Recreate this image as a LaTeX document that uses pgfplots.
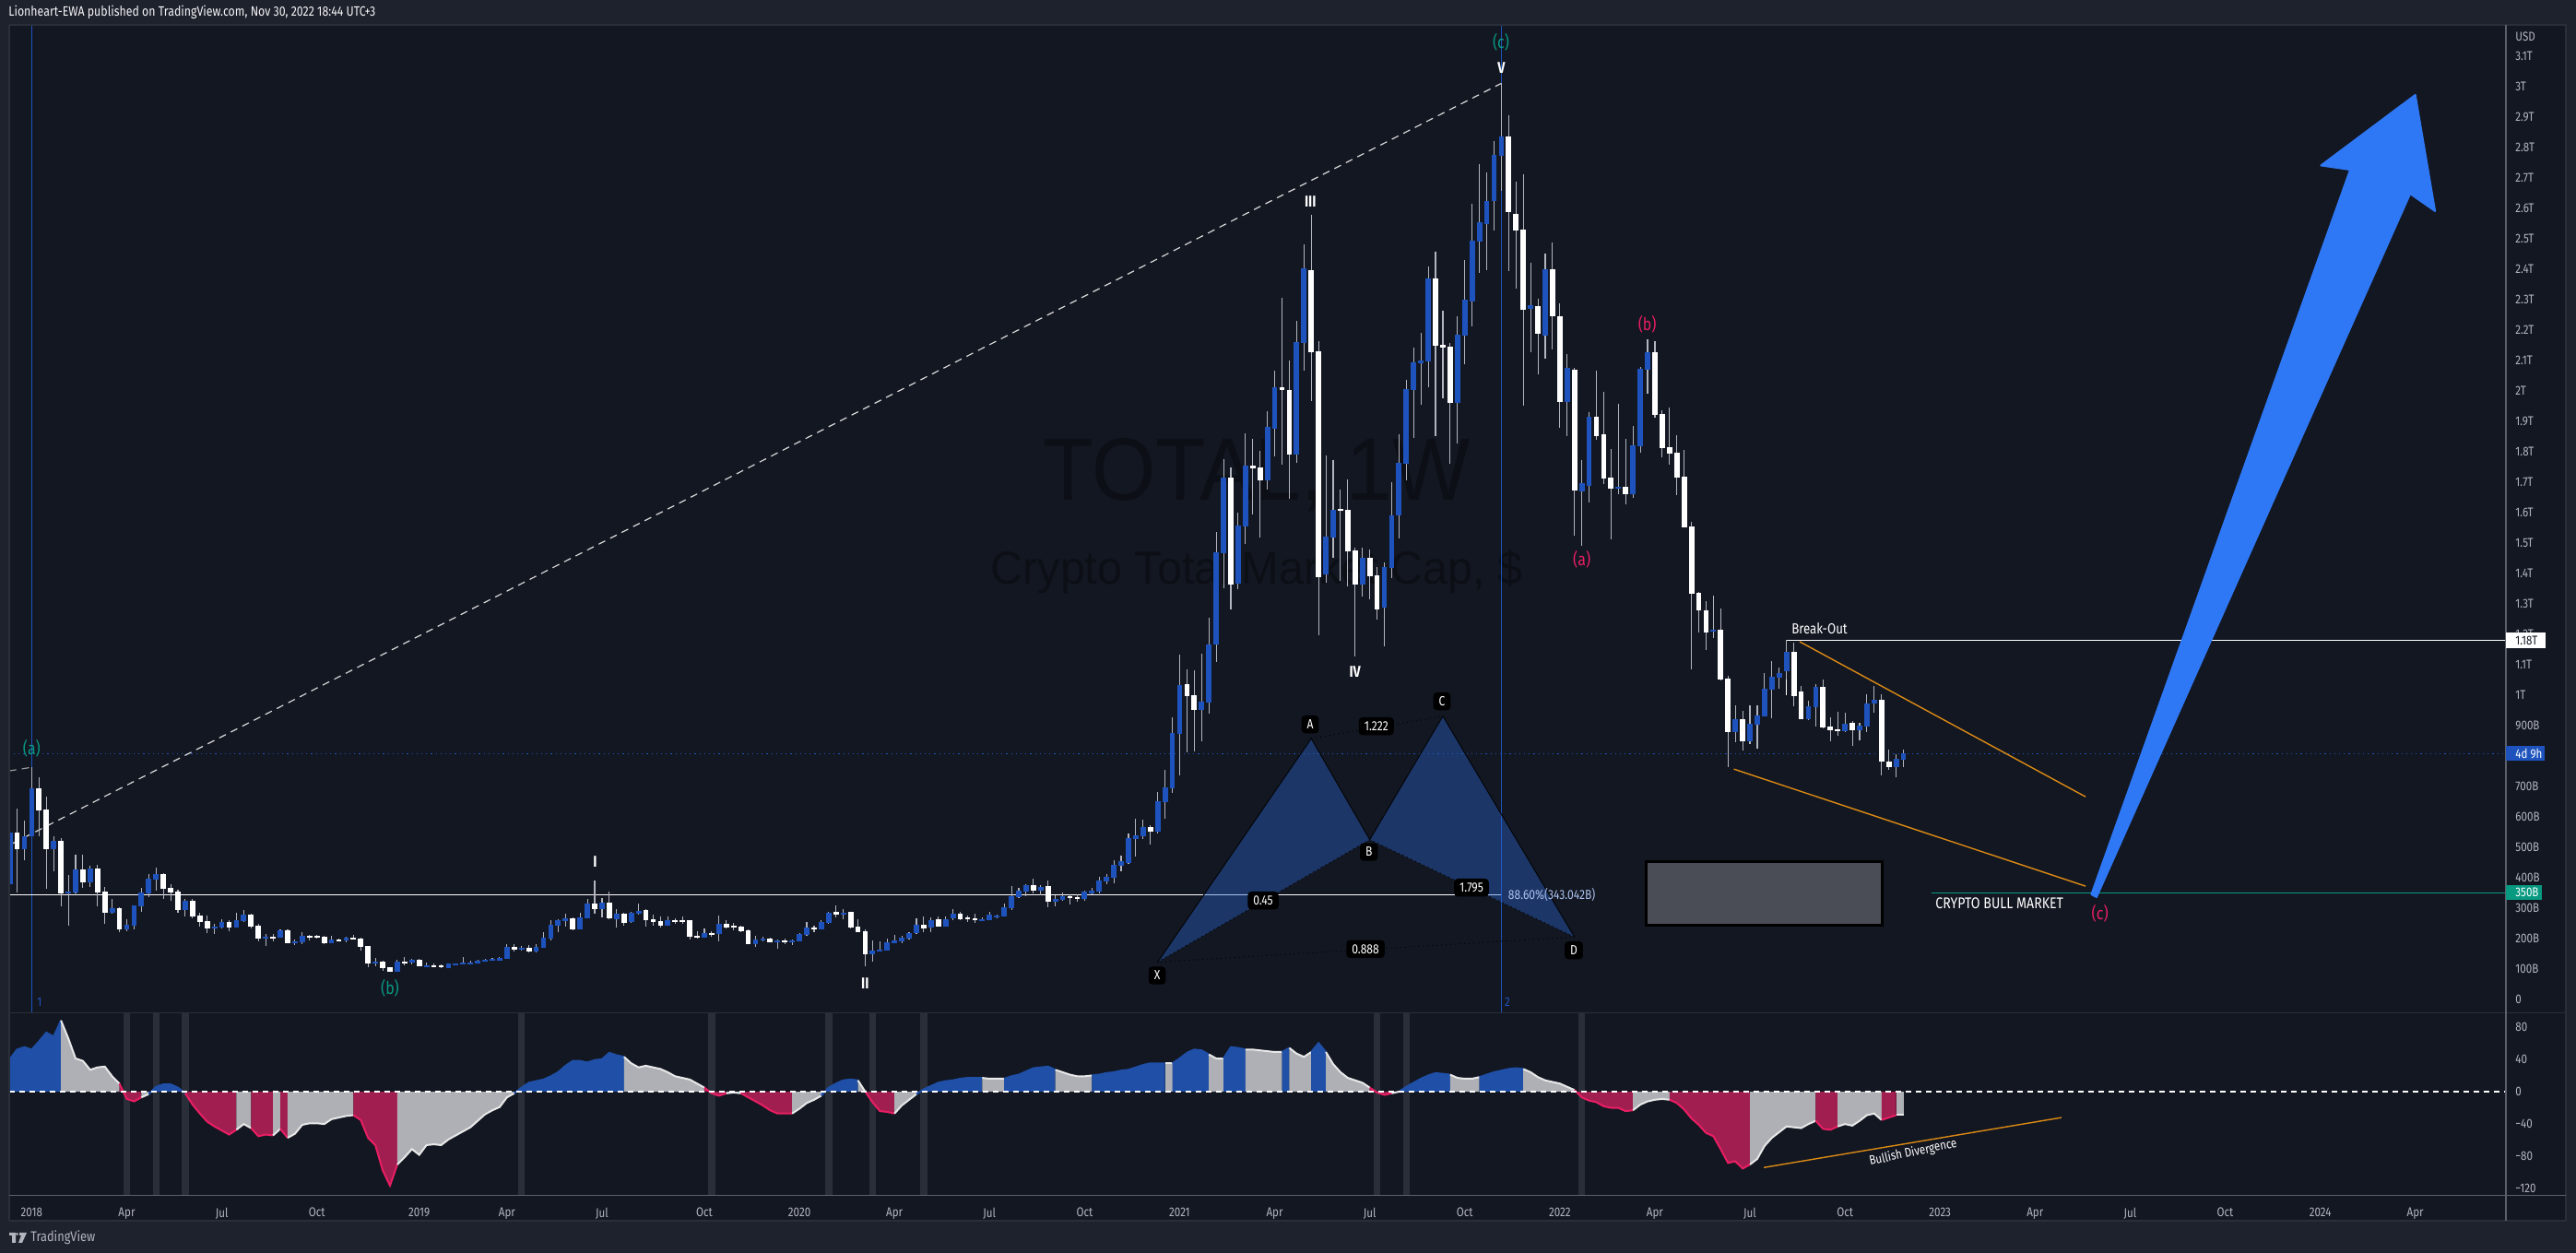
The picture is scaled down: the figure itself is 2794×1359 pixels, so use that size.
\documentclass[border=0pt]{standalone}
\usepackage{fontspec}
\usepackage{pgfplots}
\usepackage{pgfplotstable}
\pgfplotsset{compat=1.18}
\setmainfont[FakeStretch=0.84]{Fira Sans}
\newfontfamily\wm[FakeStretch=0.93]{Liberation Sans}
\newfontfamily\wmb[FakeStretch=0.97]{Liberation Sans}
\definecolor{outer}{HTML}{1E222D}
\definecolor{pane}{HTML}{131722}
\definecolor{sep}{HTML}{2A2E39}
\definecolor{scal}{HTML}{5D606B}
\definecolor{txt}{HTML}{B2B5BE}
\definecolor{upc}{HTML}{1E53BE}
\definecolor{wick}{HTML}{B2B5BE}
\definecolor{teal1}{HTML}{089981}
\definecolor{pink1}{HTML}{E91E63}
\definecolor{orng}{HTML}{DB8A14}
\definecolor{arrowb}{HTML}{2F78F5}
\definecolor{wmk}{HTML}{0C0F15}
\definecolor{oblue}{HTML}{1F4FA6}
\definecolor{ogrey}{HTML}{AEB0B5}
\definecolor{ored}{HTML}{A11E50}
\definecolor{oline}{HTML}{E8E8E8}
\definecolor{band}{HTML}{2A2E39}
\definecolor{harm}{HTML}{2A65D0}
\definecolor{rectg}{HTML}{4A4D55}
\definecolor{fibt}{HTML}{A9C0EC}

\pgfplotstableread{
i o h l c
-3 377 579 372 546
-1 492 586 457 534
0 534 762 534 692
3 492 534 420 519
5 347 409 241 353
6 350 473 347 426
8 383 437 368 429
11 283 329 281 298
13 228 262 222 244
14 241 309 228 307
15 304 365 286 350
16 347 410 336 395
17 392 432 356 410
21 292 329 271 322
25 232 247 213 238
26 235 262 232 253
28 235 283 235 259
29 255 292 253 277
32 198 213 174 204
34 201 228 201 225
36 183 195 177 189
37 186 219 180 207
41 183 207 183 195
43 192 204 186 201
47 116 134 107 122
50 89 128 89 122
52 119 131 113 128
54 107 119 107 110
57 101 116 101 116
58 113 116 110 116
59 113 137 113 119
60 116 125 116 119
61 116 128 116 125
62 122 131 122 128
63 125 134 125 131
64 127 137 125 134
65 131 180 131 171
67 162 174 159 168
69 156 180 153 171
70 168 219 168 201
71 198 259 192 244
72 241 262 219 259
73 256 280 238 265
75 228 283 228 268
76 265 329 265 313
78 295 332 268 316
80 262 295 235 280
82 253 286 250 283
83 280 313 277 289
87 241 271 241 259
92 201 231 201 216
94 213 274 189 247
99 180 207 171 195
100 192 204 189 198
102 186 195 165 192
104 189 195 177 192
105 189 216 189 213
106 210 253 207 235
108 228 259 228 253
109 250 286 247 283
111 277 295 262 283
115 147 192 122 159
116 156 189 156 162
117 159 198 159 186
118 183 210 183 192
119 189 207 183 201
120 198 219 195 216
121 216 265 213 244
123 235 268 219 259
125 238 271 238 262
126 265 295 259 280
130 259 268 256 262
131 259 286 259 277
132 271 277 265 274
133 271 313 271 301
134 298 371 292 338
135 335 365 332 356
136 353 377 338 374
138 356 374 341 368
140 319 341 304 329
141 326 350 322 338
144 329 356 322 353
145 347 365 344 356
146 353 401 347 389
147 386 410 377 401
148 398 456 380 441
149 438 471 420 453
150 447 544 444 529
151 526 592 468 538
152 535 589 526 565
154 550 680 544 650
155 647 753 592 696
156 692 926 677 875
157 873 1132 735 1032
160 950 1136 847 978
161 975 1255 938 1167
162 1167 1537 1109 1469
163 1465 1776 1351 1716
165 1366 1600 1347 1556
166 1553 1860 1496 1753
169 1705 1932 1674 1881
170 1874 2066 1785 2012
173 1789 2230 1763 2160
174 2158 2482 2066 2403
177 1397 1787 1370 1519
178 1517 1772 1452 1609
182 1364 1485 1322 1450
185 1286 1435 1159 1420
186 1418 1699 1384 1590
187 1590 1856 1514 1763
188 1760 2036 1705 2005
189 2003 2142 1844 2093
190 2092 2191 1954 2100
191 2096 2409 2012 2369
195 1961 2245 1828 2183
196 2180 2430 2088 2299
197 2295 2614 2212 2494
198 2491 2746 2388 2555
199 2548 2719 2396 2624
200 2624 2821 2526 2775
201 2773 3011 2656 2836
205 2270 2421 2128 2281
207 2181 2451 2105 2399
210 1963 2122 1850 2076
212 1670 1771 1491 1696
213 1687 1929 1633 1915
217 1678 1957 1661 1685
219 1660 1885 1648 1820
220 1818 2078 1795 2073
221 2069 2170 1990 2127
230 1208 1326 1188 1215
233 877 965 844 920
235 847 965 838 905
236 902 965 823 932
237 929 1071 929 1020
238 1017 1111 923 1059
239 1056 1090 1020 1071
240 1077 1180 1050 1141
243 920 980 917 962
244 959 1035 895 1026
248 880 941 877 905
250 883 908 850 898
251 895 1002 877 971
252 971 1029 941 983
255 762 804 729 789
256 788 820 762 807
}\bluet

\pgfplotstableread{
i o h l c
-2 546 626 351 492
1 692 729 536 620
2 623 664 363 492
4 519 528 305 347
7 426 473 366 383
9 429 441 305 350
10 353 368 248 283
12 298 301 219 228
18 410 414 329 362
19 365 376 322 350
20 353 359 283 292
22 322 329 265 271
23 274 283 238 253
24 256 274 216 232
27 253 259 222 235
30 277 280 232 238
31 241 247 189 198
33 204 213 189 200
35 225 228 182 183
38 207 210 192 204
39 207 210 198 201
40 204 207 180 183
42 195 198 191 192
44 201 210 195 195
45 198 201 159 171
46 174 174 104 116
48 122 125 92 101
49 104 104 89 89
51 122 137 110 119
53 128 131 107 107
55 110 116 107 107
56 110 113 101 104
66 171 180 156 162
68 168 177 153 156
74 265 268 225 228
77 313 389 280 295
79 316 353 262 265
81 280 283 241 250
84 292 295 238 259
85 262 277 241 253
86 256 271 235 241
88 259 265 248 256
89 259 271 248 256
90 259 259 195 204
91 207 222 198 201
93 216 222 204 213
95 247 259 231 235
96 241 250 225 235
97 238 241 219 222
98 225 228 180 180
101 198 201 186 186
103 192 198 180 189
107 235 241 219 228
110 286 307 268 277
112 286 286 231 235
113 238 262 219 219
114 222 228 107 147
122 244 271 219 231
124 262 271 238 238
127 280 286 259 262
128 268 274 253 262
129 265 280 250 259
137 374 395 347 356
139 371 389 301 319
142 338 344 310 332
143 335 344 319 329
153 565 571 508 550
158 1035 1083 810 996
159 999 1081 814 950
164 1716 1749 1280 1364
167 1753 1841 1594 1745
168 1748 1801 1517 1705
171 2012 2306 1756 2004
172 2004 2100 1645 1789
175 2396 2578 1966 2128
176 2130 2164 1197 1387
179 1611 1675 1374 1605
180 1609 1709 1357 1472
181 1475 1485 1127 1364
183 1450 1479 1314 1389
184 1393 1420 1249 1282
192 2369 2457 1850 2147
193 2151 2264 1975 2141
194 2145 2158 1760 1961
202 2836 2905 2395 2587
203 2582 2687 2337 2526
204 2530 2712 1950 2266
206 2279 2304 2055 2188
208 2399 2487 2137 2245
209 2245 2287 1877 1963
211 2068 2076 1525 1673
214 1915 2067 1839 1851
215 1857 1995 1692 1711
216 1715 1809 1512 1678
218 1685 1842 1628 1660
222 2127 2164 1912 1921
223 1924 1935 1781 1812
224 1814 1945 1758 1794
225 1797 1854 1658 1715
226 1717 1805 1551 1551
227 1554 1569 1083 1333
228 1335 1340 1206 1279
229 1279 1309 1149 1206
231 1215 1284 1049 1050
232 1053 1064 763 877
234 920 947 817 847
241 1141 1171 962 996
242 1011 1029 920 920
245 1026 1050 889 892
246 895 926 847 883
247 886 944 865 881
249 908 914 832 883
253 983 1002 735 780
254 780 820 753 762
}\whitet

\pgfplotstableread{
i v
-3 40
-2 52
-1 55
0 52
1 62
2 73
3 68
4 88
5 66
6 41
7 38
8 27
9 30
10 31
11 19
12 10
13 -9
14 -12
15 -7
16 -3
17 6
18 9
19 9
20 5
21 -2
22 -16
23 -27
24 -37
25 -43
26 -48
27 -53
28 -47
29 -40
30 -45
31 -55
32 -53
33 -54
34 -46
35 -57
36 -52
37 -41
38 -39
39 -39
40 -40
41 -34
42 -32
43 -30
44 -29
45 -35
46 -57
47 -66
48 -97
49 -116
50 -90
51 -81
52 -71
53 -78
54 -66
55 -65
56 -66
57 -59
58 -54
59 -49
60 -44
61 -36
62 -28
63 -23
64 -19
65 -7
66 -2
67 5
68 11
69 13
70 15
71 19
72 24
73 32
74 38
75 38
76 36
77 39
78 40
79 48
80 45
81 43
82 35
83 30
84 32
85 30
86 28
87 24
88 19
89 17
90 15
91 10
92 5
93 -2
94 -5
95 -2
96 -1
97 -2
98 -7
99 -12
100 -17
101 -23
102 -27
103 -27
104 -27
105 -21
106 -14
107 -10
108 -5
109 5
110 10
111 14
112 15
113 14
114 0
115 -13
116 -24
117 -25
118 -27
119 -17
120 -10
121 -3
122 3
123 7
124 11
125 13
126 14
127 16
128 17
129 17
130 17
131 16
132 16
133 16
134 19
135 21
136 25
137 29
138 30
139 31
140 27
141 24
142 21
143 19
144 19
145 20
146 21
147 23
148 24
149 26
150 27
151 30
152 33
153 35
154 35
155 35
156 35
157 41
158 48
159 52
160 51
161 46
162 41
163 41
164 55
165 54
166 52
167 52
168 51
169 50
170 49
171 49
172 54
173 47
174 43
175 49
176 60
177 49
178 34
179 24
180 17
181 14
182 11
183 5
184 -1
185 -4
186 -2
187 0
188 6
189 11
190 16
191 20
192 23
193 22
194 21
195 17
196 16
197 16
198 18
199 21
200 24
201 26
202 28
203 29
204 28
205 24
206 18
207 14
208 12
209 10
210 6
211 2
212 -7
213 -11
214 -13
215 -18
216 -20
217 -20
218 -24
219 -23
220 -16
221 -12
222 -10
223 -9
224 -10
225 -14
226 -22
227 -33
228 -41
229 -51
230 -55
231 -71
232 -88
233 -86
234 -95
235 -90
236 -83
237 -67
238 -57
239 -50
240 -43
241 -44
242 -45
243 -40
244 -36
245 -46
246 -47
247 -43
248 -40
249 -42
250 -36
251 -29
252 -27
253 -35
254 -32
255 -29
256 -29
}\osct

\newcommand\wicks[1]{\addplot[draw=none,no marks,forget plot,error bars/.cd,y dir=both,y explicit,error mark=none,error bar style={line width=.55pt,color=wick}] table[x=i,y expr=(\thisrow{h}+\thisrow{l})/2,y error expr=(\thisrow{h}-\thisrow{l})/2]{#1};}
\newcommand\bodies[2]{\addplot[draw=none,no marks,forget plot,error bars/.cd,y dir=both,y explicit,error mark=none,error bar style={line width=2.9pt,color=#2}] table[x=i,y expr=(\thisrow{o}+\thisrow{c})/2,y error expr={max(abs(\thisrow{o}-\thisrow{c})/2,3)}]{#1};}
\newcommand\seg[4]{%
\addplot[draw=none,fill=#3,forget plot,restrict x to domain=#1:#2] table[x=i,y=v]{\osct}\closedcycle;
\addplot[color=#4,line width=1pt,forget plot,restrict x to domain=#1:#2] table[x=i,y=v]{\osct};}
\newcommand\tlf{\fontsize{6.9}{8}\selectfont}

\pgfplotsset{base/.style={scale only axis,width=1354pt,xmin=-3.077,xmax=338.4,
 axis line style={draw=none},major tick length=0pt,
 tick style={draw=none},
 tick label style={font=\tlf,text=txt,inner sep=0pt}}}

\begin{document}
\begin{tikzpicture}
\begin{scope}[x=0.5pt,y=-0.5pt,yshift=679.5pt]
\fill[outer] (0,0) rectangle (2794,1359);
\fill[pane] (10,27) rectangle (2783,1323.6);
\node[text=wmk,font={\wm\fontsize{48}{50}\selectfont}] at (1363,515) {TOTAL, 1W};
\node[text=wmk,font={\wmb\fontsize{25}{27}\selectfont}] at (1363,620) {Crypto Total Market Cap, \$};
\end{scope}

% ---------- main pane
\begin{axis}[base,at={(5pt,130.25pt)},anchor=south west,height=535.75pt,
 ymin=-45.5,ymax=3203.3,xtick=\empty,
 axis y line*=right,
 ytick={0,100,200,300,400,500,600,700,800,900,1000,1100,1200,1300,1400,1500,1600,1700,1800,1900,2000,2100,2200,2300,2400,2500,2600,2700,2800,2900,3000,3100},
 yticklabels={0,100B,200B,300B,400B,500B,600B,700B,800B,900B,1T,1.1T,1.2T,1.3T,1.4T,1.5T,1.6T,1.7T,1.8T,1.9T,2T,2.1T,2.2T,2.3T,2.4T,2.5T,2.6T,2.7T,2.8T,2.9T,3T,3.1T},
 yticklabel style={anchor=west,xshift=5pt}]
% vertical session lines and price lines
\addplot[color=upc,line width=.6pt,forget plot] coordinates {(0,-45.5)(0,3203.3)};
\addplot[color=upc,line width=.6pt,forget plot] coordinates {(201,-45.5)(201,3203.3)};
\addplot[color=upc,line width=.6pt,dotted,forget plot] coordinates {(-3.1,807)(338.4,807)};
\addplot[color=white,line width=.8pt,forget plot] coordinates {(-3.1,343)(201,343)};
\addplot[color=white,line width=.6pt,forget plot] coordinates {(240,1000)(240,1180)(338.4,1180)};
\addplot[color=teal1,line width=.45pt,forget plot] coordinates {(259.8,350)(338.4,350)};
% dashed trend
\addplot[color=white!85!black,line width=.6pt,dash pattern=on 4pt off 3pt,forget plot] coordinates {(-2.65,511)(201,3011)};
\addplot[color=white!60!black,line width=.6pt,dash pattern=on 4pt off 3pt,forget plot] coordinates {(-3.1,750)(0,762)};
% harmonic pattern
\addplot[draw=none,fill=harm,fill opacity=.4,forget plot] coordinates {(154,121.5)(175,856.5)(183,524)} -- cycle;
\addplot[draw=none,fill=harm,fill opacity=.4,forget plot] coordinates {(183,524)(193,930)(211,204)} -- cycle;
\addplot[color=black!80!pane,line width=.5pt,forget plot] coordinates {(154,121.5)(175,856.5)(183,524)(193,930)(211,204)};
\addplot[color=black,line width=.5pt,dotted,forget plot] coordinates {(154,121.5)(183,524)(211,204)(154,121.5)};
\addplot[color=black,line width=.5pt,dotted,forget plot] coordinates {(175,856.5)(193,930)};
% candles
\wicks{\bluet}
\wicks{\whitet}
\bodies{\bluet}{upc}
\bodies{\whitet}{white}
% drawings
\addplot[color=orng,line width=.7pt,forget plot] coordinates {(241.8,1175)(280.9,665)};
\addplot[color=orng,line width=.7pt,forget plot] coordinates {(232.8,756)(280.9,371)};
\addplot[fill=rectg,draw=black,line width=1.5pt,forget plot] coordinates {(220.8,453)(253.1,453)(253.1,244)(220.8,244)} -- cycle;
\addplot[fill=arrowb,draw=arrowb,line width=1pt,line join=round,forget plot] coordinates {(281.7,344)(317.1,2727)(313.1,2741)(326,2973)(328.7,2591)(325.3,2648)(282.4,335)} -- cycle;
\end{axis}

% ---------- oscillator
\begin{axis}[base,at={(5pt,31.25pt)},anchor=south west,height=99pt,
 ymin=-128.1,ymax=97.4,
 axis y line*=right,axis x line*=bottom,
 ytick={-120,-80,-40,0,40,80},
 yticklabels={−120,−80,−40,0,40,80},
 yticklabel style={anchor=west,xshift=5pt},
 xtick={0,13,26,39,53,65,78,92,105,118,131,144,157,170,183,196,209,222,235,248,261,274,287,300,313,326},
 xticklabels={2018,Apr,Jul,Oct,2019,Apr,Jul,Oct,2020,Apr,Jul,Oct,2021,Apr,Jul,Oct,2022,Apr,Jul,Oct,2023,Apr,Jul,Oct,2024,Apr},
 xticklabel style={yshift=-6.5pt,anchor=north}]
\addplot[draw=none,no marks,forget plot,error bars/.cd,y dir=both,y fixed=130,error mark=none,error bar style={line width=3.7pt,color=band}] coordinates {(13,-15)(17,-15)(21,-15)(67,-15)(93,-15)(109,-15)(115,-15)(122,-15)(184,-15)(188,-15)(212,-15)};
\seg{-3}{4}{oblue}{oblue}
\seg{4}{12}{ogrey}{oline}
\seg{12}{15}{ored}{pink1}
\seg{15}{16}{ogrey}{oline}
\seg{16}{21}{oblue}{oblue}
\seg{21}{28}{ored}{pink1}
\seg{28}{30}{ogrey}{oline}
\seg{30}{33}{ored}{pink1}
\seg{33}{34}{ogrey}{oline}
\seg{34}{35}{ored}{pink1}
\seg{35}{44}{ogrey}{oline}
\seg{44}{50}{ored}{pink1}
\seg{50}{66}{ogrey}{oline}
\seg{66}{81}{oblue}{oblue}
\seg{81}{92}{ogrey}{oline}
\seg{92}{95}{ored}{pink1}
\seg{95}{97}{ogrey}{oline}
\seg{97}{104}{ored}{pink1}
\seg{104}{108}{ogrey}{oline}
\seg{108}{113}{oblue}{oblue}
\seg{113}{114}{ogrey}{oline}
\seg{114}{118}{ored}{pink1}
\seg{118}{121}{ogrey}{oline}
\seg{121}{130}{oblue}{oblue}
\seg{130}{133}{ogrey}{oline}
\seg{133}{140}{oblue}{oblue}
\seg{140}{145}{ogrey}{oline}
\seg{145}{155}{oblue}{oblue}
\seg{155}{156}{ogrey}{oline}
\seg{156}{161}{oblue}{oblue}
\seg{161}{163}{ogrey}{oline}
\seg{163}{166}{oblue}{oblue}
\seg{166}{171}{ogrey}{oline}
\seg{171}{172}{oblue}{oblue}
\seg{172}{175}{ogrey}{oline}
\seg{175}{177}{oblue}{oblue}
\seg{177}{183}{ogrey}{oline}
\seg{183}{186}{ored}{pink1}
\seg{186}{187}{ogrey}{oline}
\seg{187}{194}{oblue}{oblue}
\seg{194}{198}{ogrey}{oline}
\seg{198}{204}{oblue}{oblue}
\seg{204}{211}{ogrey}{oline}
\seg{211}{219}{ored}{pink1}
\seg{219}{224}{ogrey}{oline}
\seg{224}{235}{ored}{pink1}
\seg{235}{244}{ogrey}{oline}
\seg{244}{247}{ored}{pink1}
\seg{247}{253}{ogrey}{oline}
\seg{253}{255}{ored}{pink1}
\seg{255}{256}{ogrey}{oline}
\addplot[color=white,line width=.9pt,dash pattern=on 3pt off 2.5pt,forget plot] coordinates {(-3.1,0)(338.4,0)};
\addplot[color=orng,line width=.7pt,forget plot] coordinates {(236.9,-93.7)(277.6,-32)};
\end{axis}

% ---------- frame, labels (pixel coordinates of the reference)
\begin{scope}[x=0.5pt,y=-0.5pt,yshift=679.5pt]
\draw[sep,line width=.6pt] (10,27) -- (2783,27) -- (2783,1323.6);
\draw[sep,line width=1pt] (10,1323.6) -- (2783,1323.6);
\draw[sep,line width=.6pt] (10,27) -- (10,1323.6);
\draw[sep,line width=.7pt] (10,1098.5) -- (2783,1098.5);
\draw[scal,line width=.6pt] (10,1296.5) -- (2783,1296.5);
\draw[scal,line width=.6pt] (2718,27) -- (2718,1323.6);

\tikzset{lb/.style={font=\tlf,inner sep=0pt}}
\node[lb,text=white!85!txt,anchor=west,font=\fontsize{7.35}{9}\selectfont] at (9,13) {Lionheart-EWA published on TradingView.com, Nov 30, 2022 18:44 UTC+3};
\node[lb,text=txt,anchor=west] at (2728,40) {USD};
\node[lb,text=txt,anchor=west,font=\fontsize{7.6}{9}\selectfont] at (33,1342) {TradingView};
\fill[txt] (10,1337) rectangle (17,1340) (13,1337) rectangle (17,1348);
\fill[txt] (18.5,1338.5) circle (1.5);
\fill[txt] (21,1337) -- (29,1337) -- (24,1348) -- (20,1348) -- (23,1340) -- (21,1340) -- cycle;

% right scale boxes
\fill[white] (2718,686) rectangle (2760.7,703);
\node[lb,text=pane,anchor=west] at (2728,694.5) {1.18T};
\fill[upc] (2718,809) rectangle (2760,825.4);
\node[lb,text=white,anchor=west] at (2728,817.2) {4d 9h};
\fill[teal1] (2718,960) rectangle (2757,976.4);
\node[lb,text=white,anchor=west] at (2728,968.2) {350B};

% wave labels
\tikzset{wv/.style={font=\fontsize{9.5}{11}\selectfont,inner sep=0pt},
 rn/.style={font=\fontsize{8.5}{10}\selectfont\bfseries,text=white,inner sep=0pt}}
\node[wv,text=teal1] at (34.4,812) {(a)};
\node[wv,text=teal1] at (423,1072) {(b)};
\node[wv,text=teal1] at (1628,46) {(c)};
\node[wv,text=pink1] at (1715.7,607) {(a)};
\node[wv,text=pink1] at (1786.7,352) {(b)};
\node[wv,text=pink1] at (2277.7,991) {(c)};
\node[rn] at (645.5,935) {I};
\node[rn] at (938.4,1066.7) {II};
\node[rn] at (1421.3,218.5) {III};
\node[rn] at (1469.7,728.3) {IV};
\node[rn] at (1628.3,73.4) {V};
\node[lb,text=white,font=\fontsize{7.9}{9}\selectfont] at (1913,682) [anchor=west,xshift=0pt] {};
\node[lb,text=white,font=\fontsize{7.9}{9}\selectfont] at (1973.5,682) {Break-Out};
\node[lb,text=white,font=\fontsize{8.4}{9}\selectfont] at (2168.7,979.3) {CRYPTO BULL MARKET};
\node[lb,text=white,rotate=12] at (2075,1250) {Bullish Divergence};
\node[lb,text=upc] at (43,1087) {1};
\node[lb,text=upc] at (1635,1087) {2};

% harmonic labels
\tikzset{hb/.style={font=\fontsize{7.2}{8}\selectfont,text=white,fill=black,rounded corners=2pt,inner xsep=3pt,inner ysep=0pt,minimum height=9.7pt,minimum width=8pt}}
\node[hb] at (1255,1058) {X};
\node[hb] at (1421,785.7) {A};
\node[hb] at (1484.7,924) {B};
\node[hb] at (1564,760.7) {C};
\node[hb] at (1707,1030.7) {D};
\node[hb] at (1492.8,787.7) {1.222};
\node[hb] at (1370,976.7) {0.45};
\node[hb] at (1596,962.7) {1.795};
\node[hb] at (1481,1029.3) {0.888};
\node[lb,text=fibt,anchor=west,font=\fontsize{7.2}{8}\selectfont] at (1635.5,970) {88.60\%(343.042B)};
\end{scope}
\end{tikzpicture}
\end{document}
